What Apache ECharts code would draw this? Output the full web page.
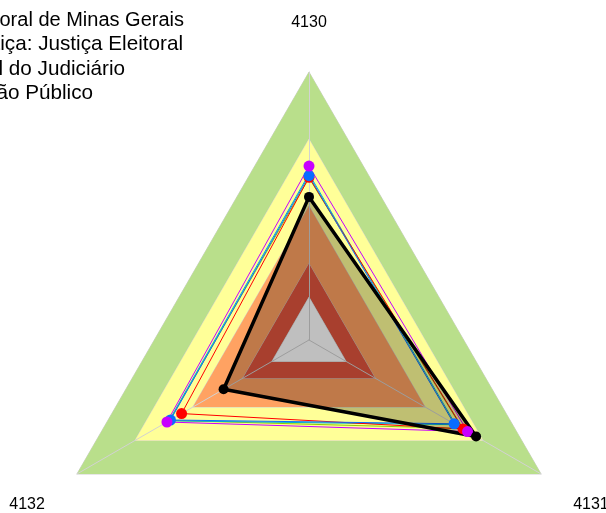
<!DOCTYPE html>
<html>
<head>
<meta charset="utf-8">
<script src="https://cdn.jsdelivr.net/npm/echarts@6.0.0/dist/echarts.min.js"></script>
<style>
  html, body { margin: 0; padding: 0; background: #fff; }
  #chart { width: 606px; height: 513px; }
</style>
</head>
<body>
<div id="chart"></div>
<script>
// axes go counter-clockwise from the top: 4130, 4132, 4131
const indicators = ['4130', '4132', '4131'];

// background bands (outer to inner)
const bandLevels = [1, 0.75, 0.5, 0.285, 0.16];
const bandColors = ['#b9df8b', '#ffff98', '#ffa262', '#e0553e', '#ffffff'];

const seriesNames = [
  'Tribunal Regional Eleitoral de Minas Gerais',
  'Segmento de Justiça: Justiça Eleitoral',
  'Média Geral do Judiciário',
  'Média Geral da Administração Público',
];

// values per axis, same order as indicators
const orgValues = [0.534, 0.368, 0.72];
const segmentValues = [0.607, 0.549, 0.664];
const judiciaryValues = [0.613, 0.597, 0.625];
const publicValues = [0.649, 0.612, 0.683];
const cyanValues = [0.62, 0.603, 0.632];
const greenValues = [0.605, 0.6, 0.66];

// legend is cut by the left edge, each line placed by its right end
const legendRight = [184, 183, 125, 93];
const legendMid = [20, 44.5, 69, 93];
const legendFont = [20, 20.7, 20.7, 20.7];

const chart = echarts.init(document.getElementById('chart'));

const bandSeries = bandLevels.map((lvl, i) => ({
  type: 'radar',
  z: 1,
  silent: true,
  symbol: 'none',
  lineStyle: { color: '#cfcfcf', width: 1 },
  areaStyle: { color: bandColors[i], opacity: 1 },
  data: [{ value: [lvl, lvl, lvl] }],
}));

const thinLine = (name, values, color) => ({
  name: name,
  type: 'radar',
  z: 3,
  symbol: 'none',
  lineStyle: { color: color, width: 1 },
  data: [{ value: values, name: name }],
});

const marked = (name, values, color, width, size, area) => ({
  name: name,
  type: 'radar',
  z: 3,
  symbol: 'circle',
  symbolSize: size,
  itemStyle: { color: color },
  lineStyle: { color: color, width: width },
  areaStyle: area ? { color: area, opacity: 1 } : undefined,
  data: [{ value: values, name: name }],
});

chart.setOption({
  animation: false,
  legend: seriesNames.map((name, i) => ({
    data: [name],
    orient: 'vertical',
    right: 606 - legendRight[i],
    top: legendMid[i] - 12,
    padding: 0,
    itemWidth: 24,
    itemHeight: 10,
    selectedMode: false,
    textStyle: {
      fontSize: legendFont[i],
      lineHeight: 24,
      color: '#000',
      fontFamily: 'Liberation Sans, Arial, sans-serif',
    },
  })),
  radar: {
    center: [309, 340],
    radius: 268,
    startAngle: 90,
    shape: 'polygon',
    splitNumber: 1,
    z: 2,
    indicator: indicators.map(n => ({ name: n, min: 0, max: 1 })),
    splitLine: { show: false },
    splitArea: { show: false },
    axisTick: { show: false },
    axisLabel: { show: false },
    axisLine: { lineStyle: { color: '#d2d2d2', width: 1 } },
    nameGap: 37,
    axisName: {
      color: '#000',
      fontSize: 16,
      fontFamily: 'Liberation Sans, Arial, sans-serif',
      formatter: name => name === '4130' ? '{top|' + name + '}' : '{low|' + name + '}',
      rich: {
        top: { fontSize: 16, padding: [0, 0, 4, 0] },
        low: { fontSize: 16, padding: [25, 0, 0, 0] },
      },
    },
  },
  series: [
    ...bandSeries,
    thinLine('green', greenValues, '#8fcc00'),
    thinLine('cyan', cyanValues, '#00b8c8'),
    marked(seriesNames[1], segmentValues, '#ff0000', 1, 11),
    marked(seriesNames[2], judiciaryValues, '#0a6cff', 1, 11),
    marked(seriesNames[3], publicValues, '#c800ff', 1, 11),
    marked(seriesNames[0], orgValues, '#000000', 3.5, 10, 'rgba(0,0,0,0.25)'),
  ],
});
</script>
</body>
</html>
